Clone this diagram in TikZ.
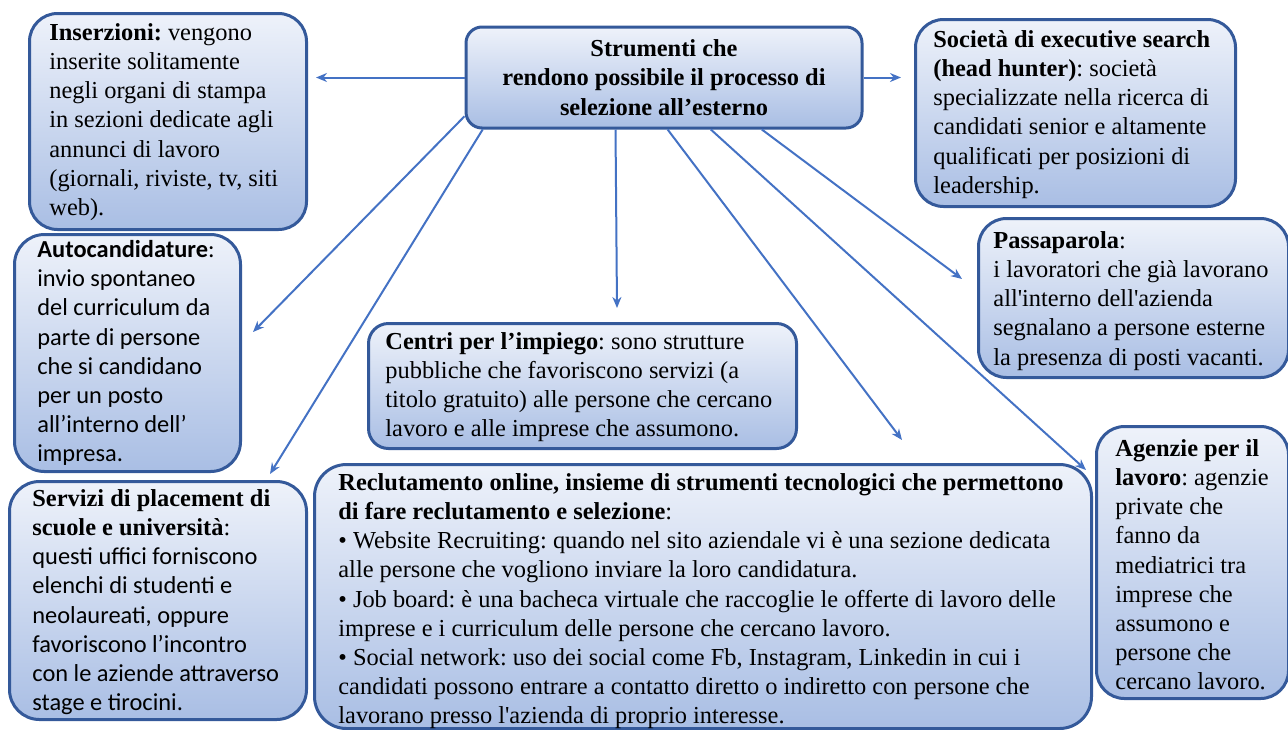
\documentclass[tikz,border=0pt]{standalone}
\usepackage{fontspec}
\setmainfont{Liberation Serif}
\newfontfamily\calibri{Carlito}
\usetikzlibrary{arrows.meta}
\definecolor{edge}{HTML}{34599A}
\definecolor{boxtop}{HTML}{EEF2FA}
\definecolor{boxbot}{HTML}{A9BEE4}
\definecolor{linkblue}{HTML}{4472C4}
\frenchspacing
\begin{document}
\begin{tikzpicture}[x=0.5pt,y=-0.5pt,
  card/.style={draw=edge, line width=1.5pt, rounded corners=14pt,
    top color=boxtop, bottom color=boxbot, anchor=north west,
    inner sep=0pt},
  txt/.style={anchor=north west, align=left, inner sep=0pt,
    font=\fontsize{12.2}{14.6}\selectfont},
  arrowto/.style={draw=linkblue, line width=1pt,
    -{Stealth[length=5.5pt,width=4.5pt]}}]
\useasboundingbox (0,0) rectangle (1288,729);

% central box
\node[card, rounded corners=8pt, align=center, anchor=center,
      minimum width=198pt, minimum height=50.5pt,
      font=\fontsize{12.2}{14.6}\selectfont\bfseries] (ctr) at (664,77.5)
  {Strumenti che\\ rendono possibile il processo di\\ selezione all’esterno};

% surrounding boxes
\node[card, minimum width=138.5pt, minimum height=108pt] (ins) at (28,12) {};
\node[txt] (insText) at (49,23)
  {\textbf{Inserzioni:} vengono\\ inserite solitamente\\ negli organi di stampa\\
   in sezioni dedicate agli\\ annunci di lavoro\\ (giornali, riviste, tv, siti\\ web).};

\node[card, minimum width=160pt, minimum height=93.5pt] (soc) at (914,18) {};
\node[txt] (socText) at (933,30)
  {\textbf{Società di executive search}\\ \textbf{(head hunter)}: società\\
   specializzate nella ricerca di\\ candidati senior e altamente\\
   qualificati per posizioni di\\ leadership.};

\node[card, rounded corners=15pt, minimum width=113pt, minimum height=118.5pt] (auto) at (13,233) {};
\node[txt, font=\fontsize{12.2}{14.6}\calibri] (autoText) at (37,240)
  {\textbf{Autocandidature}:\\ invio spontaneo\\ del curriculum da\\
   parte di persone\\ che si candidano\\ per un posto\\ all’interno dell’\\ impresa.};

\node[card, minimum width=155pt, minimum height=79.5pt] (pass) at (977,217) {};
\node[txt] (passText) at (993,231)
  {\textbf{Passaparola}:\\ i lavoratori che già lavorano\\
   all\textquotesingle interno dell\textquotesingle azienda\\
   segnalano a persone esterne\\ la presenza di posti vacanti.};

\node[card, rounded corners=10pt, minimum width=214pt, minimum height=62.5pt] (cpi) at (367,322) {};
\node[txt] (cpiText) at (385,332)
  {\textbf{Centri per l’impiego}: sono strutture\\
   pubbliche che favoriscono servizi (a\\
   titolo gratuito) alle persone che cercano\\
   lavoro e alle imprese che assumono.};

\node[card, rounded corners=16pt, minimum width=388.5pt, minimum height=132pt] (rec) at (313,463) {};
\node[txt] (recText) at (338,473)
  {\textbf{Reclutamento online, insieme di strumenti tecnologici che permettono}\\
   \textbf{di fare reclutamento e selezione}:\\
   • Website Recruiting: quando nel sito aziendale vi è una sezione dedicata\\
   alle persone che vogliono inviare la loro candidatura.\\
   • Job board: è una bacheca virtuale che raccoglie le offerte di lavoro delle\\
   imprese e i curriculum delle persone che cercano lavoro.\\
   • Social network: uso dei social come Fb, Instagram, Linkedin in cui i\\
   candidati possono entrare a contatto diretto o indiretto con persone che\\
   lavorano presso l\textquotesingle azienda di proprio interesse.};

\node[card, rounded corners=15pt, minimum width=148.5pt, minimum height=119pt] (serv) at (8,480) {};
\node[txt] (servText) at (32,489)
  {\textbf{Servizi di placement di}\\ \textbf{scuole e università}:\\
   {\calibri questi uffici forniscono}\\ {\calibri elenchi di studenti e}\\
   {\calibri neolaureati, oppure}\\ {\calibri favoriscono l’incontro}\\
   {\calibri con le aziende attraverso}\\ {\calibri stage e tirocini.}};

\node[card, minimum width=96pt, minimum height=136pt] (age) at (1095,425) {};
\node[txt] (ageText) at (1115,439)
  {\textbf{Agenzie per il}\\ \textbf{lavoro}: agenzie\\ private che\\ fanno da\\
   mediatrici tra\\ imprese che\\ assumono e\\ persone che\\ cercano lavoro.};

% arrow tips, left in the free space next to each box
\coordinate (t1) at (316,77.5);
\coordinate (t2) at (901,77.5);
\coordinate (t3) at (253,332);
\coordinate (t4) at (270,474);
\coordinate (t5) at (617,308);
\coordinate (t6) at (902,440);
\coordinate (t7) at (1086,470);
\coordinate (t8) at (962,279);

\draw[arrowto] (ctr.west) -- (t1);
\draw[arrowto] (ctr.east) -- (t2);
\draw[arrowto] (ctr.191.6) -- (t3);
\draw[arrowto] (ctr.196.6) -- (t4);
\draw[arrowto] (ctr.227.1) -- (t5);
\draw[arrowto] (ctr.274.5) -- (t6);
\draw[arrowto] (ctr.312.3) -- (t7);
\draw[arrowto] (ctr.332.7) -- (t8);
\end{tikzpicture}
\end{document}
